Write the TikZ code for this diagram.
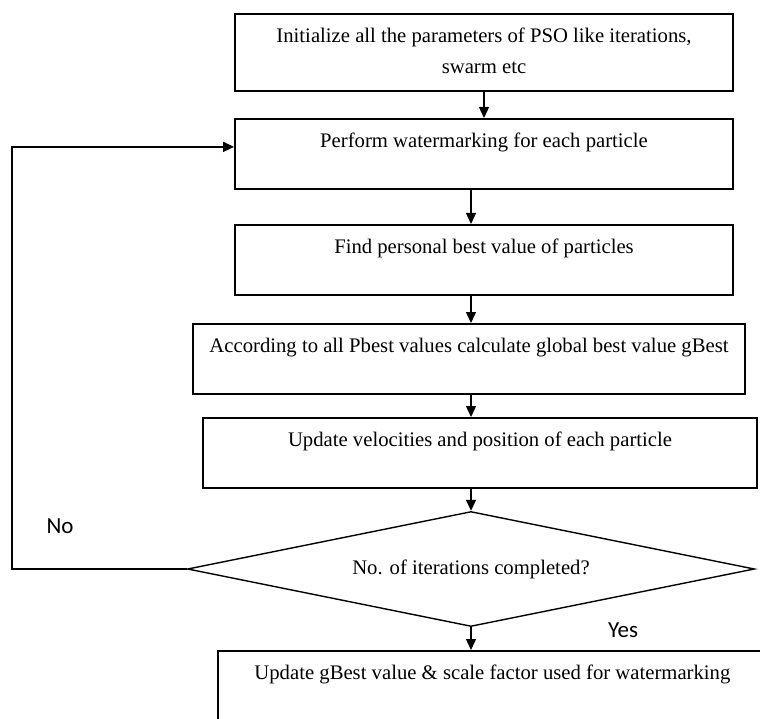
\documentclass[tikz,border=0pt]{standalone}
\usepackage{fontspec}
\setmainfont{Liberation Serif}
\newfontfamily\answerfont{Carlito}
\usetikzlibrary{shapes.geometric, arrows.meta}
\tikzset{
    % Process box style
    process/.style={
        rectangle,
        draw=black,
        line width=1.8pt,
        anchor=north,
        align=center,
        inner xsep=0pt,
        inner ysep=17pt,
        text height=12pt,
        text depth=24pt,
        font=\fontsize{20.7}{31}\selectfont
    },
    % Decision box style
    decision/.style={
        diamond,
        draw=black,
        line width=1.4pt,
        inner sep=0pt,
        aspect=4.93,
        minimum width=567pt,
        minimum height=115pt,
        font=\fontsize{20.7}{24}\selectfont
    },
    % Arrow style
    arrow/.style={
        ->,
        >={Triangle[length=11pt,width=10pt]},
        line width=1.4pt,
        color=black
    },
    % Yes/No labels
    answer/.style={
        font=\answerfont\fontsize{23}{26}\selectfont
    }
}
\begin{document}
\begin{tikzpicture}[x=1pt, y=-1pt]
    \useasboundingbox (0,0) rectangle (760,719);
    \clip (0,0) rectangle (760,719);

    % Process steps
    \node (init) [process, minimum width=498pt, text height=43pt, text depth=-8pt] at (484,13) {Initialize all the parameters of PSO like iterations,\\swarm etc};
    \node (perform) [process, minimum width=498pt] at (484,118) {Perform watermarking for each particle};
    \node (pbest) [process, minimum width=498pt] at (484,224) {Find personal best value of particles};
    \node (gbest) [process, minimum width=552pt] at (469,323) {According to all Pbest values calculate global best value gBest};
    \node (velocity) [process, minimum width=554pt] at (480,417) {Update velocities and position of each particle};

    % Decision
    \node (check) [decision] at (471,569) {No. of iterations completed?};

    % Last step (runs off the page)
    \node (final) [process, anchor=north west, minimum width=549pt, text depth=40pt] at (217,650) {Update gBest value \& scale factor used for watermarking};

    % Labels
    \node [answer] at (60,526) {No};
    \node [answer] at (623,630) {Yes};

    % Arrows
    \coordinate (loop) at (12,569);
    \draw [arrow] (init.south) -- (perform.north);
    \draw [arrow] (perform.south -| check.north) -- (pbest.north -| check.north);
    \draw [arrow] (pbest.south -| check.north) -- (gbest.north -| check.north);
    \draw [arrow] (gbest.south -| check.north) -- (velocity.north -| check.north);
    \draw [arrow] (velocity.south -| check.north) -- (check.north);
    \draw [arrow] (check.south) -- (final.north -| check.south);
    \draw [arrow] (check.west) -- (loop) |- ([yshift=7pt]perform.west);
\end{tikzpicture}
\end{document}
